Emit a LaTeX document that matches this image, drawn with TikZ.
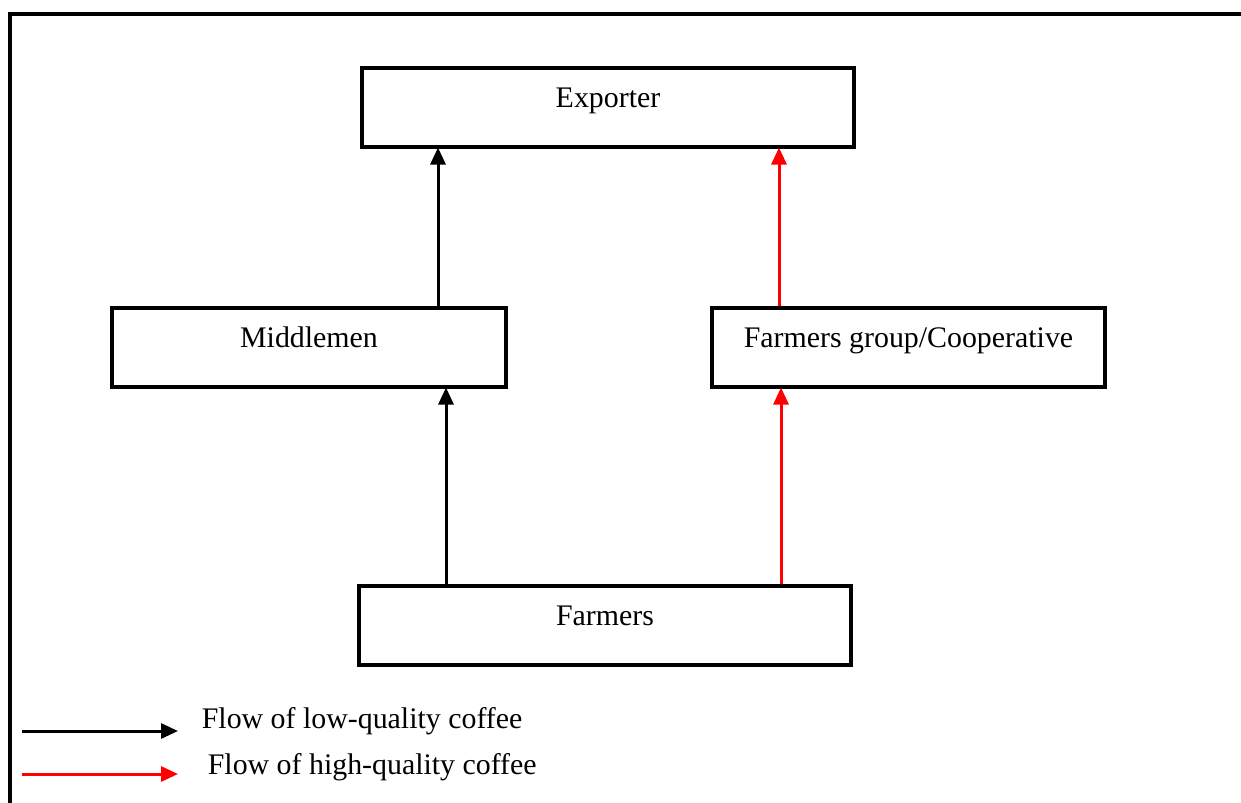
\documentclass[tikz,border=0pt]{standalone}
\usepackage{fontspec}
\setmainfont{Liberation Serif}
\usetikzlibrary{arrows.meta}

\tikzset{
    chainbox/.style={draw, line width=0.08cm, inner sep=0pt, text height=0.79cm, text depth=0.79cm, minimum height=1.58cm, font=\fontsize{17}{20}\selectfont},
    lowflow/.style={line width=0.06cm, black, -{Triangle[length=0.34cm, width=0.3cm]}},
    highflow/.style={line width=0.06cm, red, -{Triangle[length=0.34cm, width=0.3cm]}},
    legendtext/.style={anchor=base west, inner sep=0pt, font=\fontsize{17}{20}\selectfont}
}

\begin{document}
\begin{tikzpicture}
    \useasboundingbox (0,0) rectangle (24.82,-16.04);
    % frame (top and left only)
    \draw[line width=0.08cm] (24.9,-0.28) -- (0.2,-0.28) -- (0.2,-16.1);

    % boxes
    \node[chainbox, minimum width=9.84cm] (exp) at (12.16,-2.15) {Exporter};
    \node[chainbox, minimum width=7.88cm] (mid) at (6.18,-6.95) {Middlemen};
    \node[chainbox, minimum width=7.86cm] (coop) at (18.17,-6.95) {Farmers group/Cooperative};
    \node[chainbox, minimum width=9.84cm] (farm) at (12.10,-12.51) {Farmers};

    % low-quality flow
    \draw[lowflow] (mid.north -| 8.76,0) -- ([yshift=0.03cm]exp.south -| 8.76,0);
    \draw[lowflow] (farm.north -| 8.92,0) -- ([yshift=0.03cm]mid.south -| 8.92,0);

    % high-quality flow
    \draw[highflow] (coop.north -| 15.58,0) -- ([yshift=0.03cm]exp.south -| 15.58,0);
    \draw[highflow] (farm.north -| 15.62,0) -- ([yshift=0.03cm]coop.south -| 15.62,0);

    % legend
    \coordinate (lowa) at (0.44,-14.62);
    \coordinate (lowb) at (3.56,-14.62);
    \coordinate (higha) at (0.44,-15.48);
    \coordinate (highb) at (3.56,-15.48);
    \draw[lowflow] (lowa) -- (lowb);
    \draw[highflow] (higha) -- (highb);
    \node[legendtext] (lowtext) at (4.03,-14.56) {Flow of low-quality coffee};
    \node[legendtext] (hightext) at (4.15,-15.48) {Flow of high-quality coffee};
\end{tikzpicture}
\end{document}
